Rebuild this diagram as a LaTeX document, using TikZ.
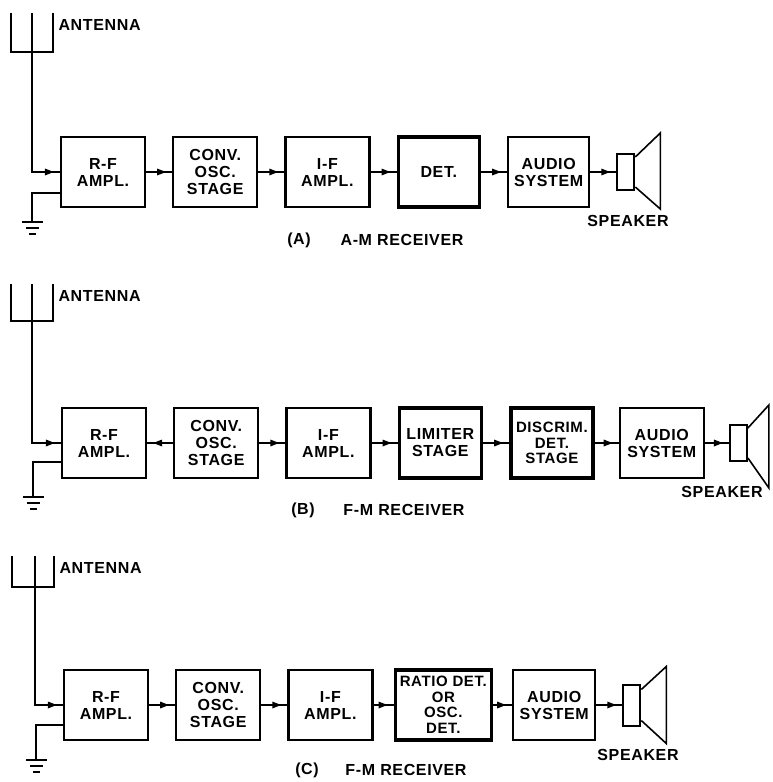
\documentclass[tikz,border=0pt]{standalone}
\usepackage{fontspec}
\setmainfont{Liberation Sans}[LetterSpace=4]
\usepackage{tikz}
\usetikzlibrary{calc}
\usetikzlibrary{positioning}
\usetikzlibrary{arrows.meta}
\usetikzlibrary{decorations.markings}

\begin{document}
\begin{tikzpicture}[x=1pt, y=-1pt, node distance=26pt,
  font=\fontsize{16}{17}\selectfont\bfseries,
  blk/.style={draw, line width=2.2pt, minimum width=84pt, minimum height=70pt, align=center, inner sep=0pt},
  heavy/.style={blk, line width=3.6pt},
  snug/.style={font=\fontsize{15}{15.5}\selectfont\bfseries},
  spk/.style={draw, line width=2pt, minimum width=17pt, minimum height=36pt, inner sep=0pt},
  wire/.style={line width=1.6pt, line join=miter},
  flow/.style={wire, decoration={markings, mark=at position -6pt with {\arrow{Triangle[length=9pt,width=6.5pt]}}}, postaction={decorate}}]
\useasboundingbox (0,0) rectangle (773,782);
  \node[name=rfA, blk] at (103,172) {R-F\\AMPL.};
  \node[name=convA, blk, right=of rfA] {CONV.\\OSC.\\STAGE};
  \node[name=ifA, blk, right=of convA] {I-F\\AMPL.};
  \node[name=detA, heavy, minimum width=81pt, right=of ifA] {DET.};
  \node[name=audA, blk, minimum width=81pt, right=of detA] {AUDIO\\SYSTEM};
  \node[name=spkA, spk, right=of audA] {};
  \draw[flow] (rfA.east) -- (convA.west);
  \draw[flow] (convA.east) -- (ifA.west);
  \draw[flow] (ifA.east) -- (detA.west);
  \draw[flow] (detA.east) -- (audA.west);
  \draw[flow] (audA.east) -- (spkA.west);
  \draw[wire] ([yshift=-4pt]spkA.north east) -- ++(25,-24) -- ++(0,76) -- ([yshift=4pt]spkA.south east);
  \draw[wire] (11,13) -- (11,52) -- (53,52) -- (53,13);
  \draw[flow] (32,13) |- (rfA.west);
  \draw[wire] ($(rfA.west)+(0,21)$) -| (32,222);
  \draw[wire] (22,222) -- (43,222) (26,228) -- (39,228) (29,234) -- (36,234);
  \node[name=antA, anchor=west] at (55,25) {ANTENNA};
  \node[name=spklblA] at (628,221) {SPEAKER};
  \node[name=capA] at (299,240) {(A)};
  \node[name=ttlA] at (402,240) {A-M RECEIVER};

  \node[name=rfB, blk] at (104,443) {R-F\\AMPL.};
  \node[name=convB, blk, right=of rfB] {CONV.\\OSC.\\STAGE};
  \node[name=ifB, blk, right=of convB] {I-F\\AMPL.};
  \node[name=limB, heavy, minimum width=82pt, right=of ifB] {LIMITER\\STAGE};
  \node[name=discB, heavy, snug, minimum width=82pt, right=of limB] {DISCRIM.\\DET.\\STAGE};
  \node[name=audB, blk, right=24pt of discB] {AUDIO\\SYSTEM};
  \node[name=spkB, spk, right=24pt of audB] {};
  \draw[flow] (convB.west) -- (rfB.east);
  \draw[flow] (convB.east) -- (ifB.west);
  \draw[flow] (ifB.east) -- (limB.west);
  \draw[flow] (limB.east) -- (discB.west);
  \draw[flow] (discB.east) -- (audB.west);
  \draw[flow] (audB.east) -- (spkB.west);
  \draw[wire] ([yshift=-4pt]spkB.north east) -- ++(21,-23) -- ++(0,83) -- ([yshift=4pt]spkB.south east);
  \draw[wire] (11,284) -- (11,321) -- (53,321) -- (53,284);
  \draw[flow] (32,284) |- (rfB.west);
  \draw[wire] ($(rfB.west)+(0,19)$) -| (33,497);
  \draw[wire] (23,497) -- (44,497) (27,503) -- (40,503) (30,509) -- (37,509);
  \node[name=antB, anchor=west] at (55,296) {ANTENNA};
  \node[name=spklblB] at (722,492) {SPEAKER};
  \node[name=capB] at (303,510) {(B)};
  \node[name=ttlB] at (404,510) {F-M RECEIVER};

  \node[name=rfC, blk] at (106,705) {R-F\\AMPL.};
  \node[name=convC, blk, right=of rfC] {CONV.\\OSC.\\STAGE};
  \node[name=ifC, blk, right=of convC] {I-F\\AMPL.};
  \node[name=ratC, heavy, snug, minimum width=96pt, right=20pt of ifC] {RATIO DET.\\OR\\OSC.\\DET.};
  \node[name=audC, blk, minimum width=82pt, right=19pt of ratC] {AUDIO\\SYSTEM};
  \node[name=spkC, spk, minimum height=41pt, right=of audC] {};
  \draw[flow] (rfC.east) -- (convC.west);
  \draw[flow] (convC.east) -- (ifC.west);
  \draw[flow] (ifC.east) -- (ratC.west);
  \draw[flow] (ratC.east) -- (audC.west);
  \draw[flow] (audC.east) -- (spkC.west);
  \draw[wire] ([yshift=-6pt]spkC.north east) -- ++(25,-23) -- ++(0,77) -- ([yshift=6pt]spkC.south east);
  \draw[wire] (12,556) -- (12,587) -- (54,587) -- (54,556);
  \draw[flow] (35,556) |- (rfC.west);
  \draw[wire] ($(rfC.west)+(0,20)$) -| (36,760);
  \draw[wire] (26,760) -- (47,760) (30,766) -- (43,766) (33,772) -- (40,772);
  \node[name=antC, anchor=west] at (56,568) {ANTENNA};
  \node[name=spklblC] at (638,755) {SPEAKER};
  \node[name=capC] at (307,770) {(C)};
  \node[name=ttlC] at (406,770) {F-M RECEIVER};
\end{tikzpicture}
\end{document}
